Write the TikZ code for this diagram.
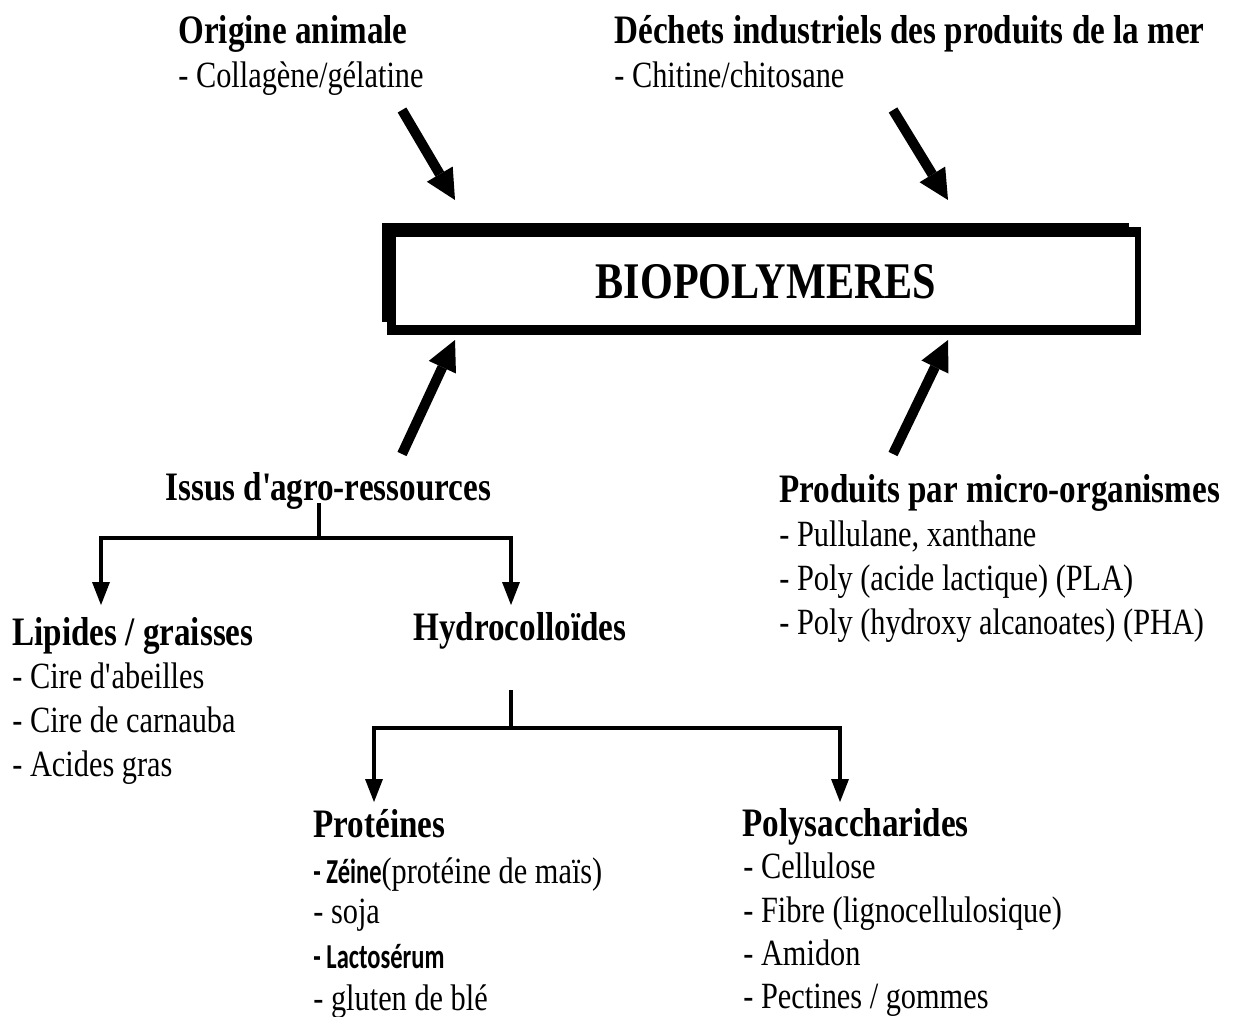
\documentclass[tikz,border=0pt]{standalone}
\usepackage{fontspec}
\setmainfont{Liberation Serif}[FakeStretch=0.82]
\newfontfamily\calibri{Carlito}[FakeStretch=0.7]
\usetikzlibrary{arrows.meta}

\tikzset{
titre/.style={anchor=base west,inner sep=0pt,font=\fontsize{20.2}{22}\selectfont\bfseries},
liste/.style={anchor=base west,inner sep=0pt,font=\fontsize{18.5}{22}\selectfont},
grosse/.style={line width=5pt,-{Triangle[length=15pt,width=15pt,line width=0pt]}},
fleche/.style={line width=1.75pt,-{Triangle[length=11.5pt,width=9pt,line width=0pt]}},
trait/.style={line width=1.75pt}
}

\begin{document}
\begin{tikzpicture}[x=0.5pt,y=-0.5pt]
\useasboundingbox (0,0) rectangle (1234,1016);
\clip (0,0) rectangle (1234,1016);

% le cadre
\fill[black] (382,223) rectangle (1129,322);
\fill[black] (387,227) rectangle (1141,335);
\fill[white] (396,237) rectangle (1135,325);
\node[inner sep=0pt,font=\fontsize{25.7}{28}\selectfont\bfseries] (bio) at (766,282) {BIOPOLYMERES};

% en haut
\path (178,44) node[titre] (origine) {Origine animale}
(178,88) node[liste] (collagene) {- Collagène/gélatine}
(614,44) node[titre] (dechets) {Déchets industriels des produits de la mer}
(614,88) node[liste] (chitine) {- Chitine/chitosane};

\coordinate (o1) at (402,110);
\coordinate (o2) at (455,200);
\coordinate (d1) at (893,110);
\coordinate (d2) at (948,200);
\draw[grosse] (o1) -- (o2);
\draw[grosse] (d1) -- (d2);

% en bas
\coordinate (i1) at (402,454);
\coordinate (i2) at (455,340);
\coordinate (p1) at (893,454);
\coordinate (p2) at (948,340);
\draw[grosse] (i1) -- (i2);
\draw[grosse] (p1) -- (p2);

\path (165,500) node[titre] (issus) {Issus d\textquotesingle\kern-0.08em agro-ressources}
(779,502) node[titre] (produits) {Produits par micro-organismes}
(779,546) node[liste] (pullulane) {- Pullulane, xanthane}
(779,590) node[liste] (pla) {- Poly (acide lactique) (PLA)}
(779,634) node[liste] (pha) {- Poly (hydroxy alcanoates) (PHA)};

\path (12,645) node[titre] (lipides) {Lipides / graisses}
(12,688) node[liste] (cire1) {- Cire d\textquotesingle abeilles}
(12,732) node[liste] (cire2) {- Cire de carnauba}
(12,776) node[liste] (acides) {- Acides gras}
(413,640) node[titre] (hydro) {Hydrocolloïdes};

\path (313,837) node[titre] (proteines) {Protéines}
(313,883) node[liste] (zeine) {{\calibri\fontsize{17.5}{18}\selectfont\bfseries -~Zéine}(protéine de maïs)}
(313,923) node[liste] (soja) {- soja}
(313,968) node[liste] (lacto) {{\calibri\fontsize{17.5}{18}\selectfont\bfseries -~Lactosérum}}
(313,1010) node[liste] (gluten) {- gluten de blé};

\path (742,836) node[titre] (polysacch) {Polysaccharides}
(743,878) node[liste] (cellulose) {- Cellulose}
(743,922) node[liste] (fibre) {- Fibre (lignocellulosique)}
(743,965) node[liste] (amidon) {- Amidon}
(743,1008) node[liste] (pectines) {- Pectines / gommes};

% les branches
\coordinate (a0) at (319,503);
\coordinate (a1) at (319,538);
\coordinate (a2) at (101,605);
\coordinate (a3) at (511,605);
\draw[trait] (a0) -- (a1);
\draw[fleche] (a1) -| (a2);
\draw[fleche] (a1) -| (a3);

\coordinate (b0) at (511,690);
\coordinate (b1) at (511,728);
\coordinate (b2) at (374,802);
\coordinate (b3) at (840,802);
\draw[trait] (b0) -- (b1);
\draw[fleche] (b1) -| (b2);
\draw[fleche] (b1) -| (b3);

\end{tikzpicture}
\end{document}
